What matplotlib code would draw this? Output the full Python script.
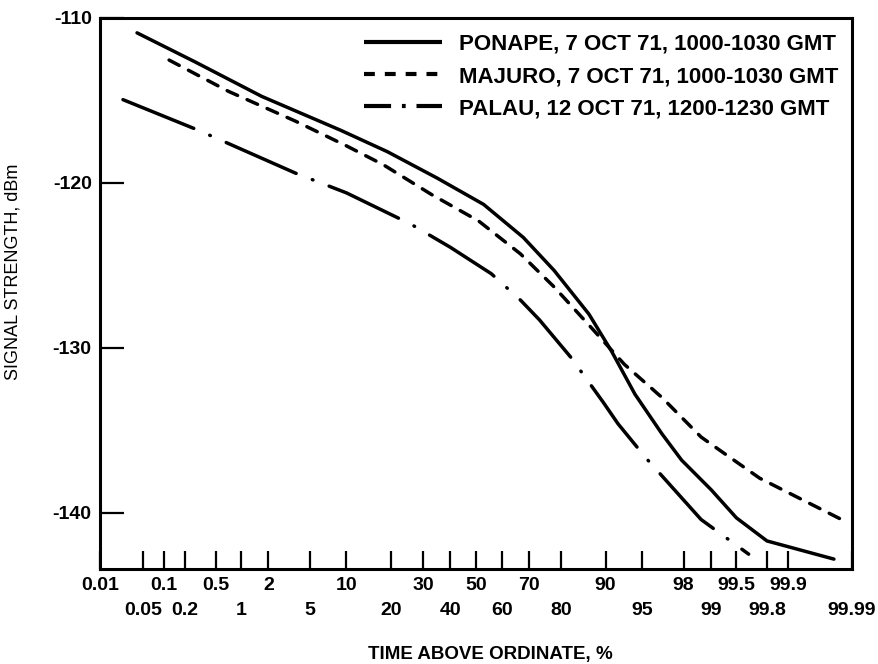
import math

import matplotlib
matplotlib.use("Agg")
import matplotlib.pyplot as plt
import numpy as np
from matplotlib.lines import Line2D
from matplotlib.ticker import FixedLocator, FixedFormatter, NullFormatter

# Cumulative distributions of received signal level (percent of time above ordinate)
ponape_pct = [0.04, 0.27, 1.7, 9.0, 19, 35, 53, 68, 78, 86.8, 91, 94.2, 96.7, 97.9, 99.0, 99.5, 99.8, 99.98]
ponape_dbm = [-110.9, -112.65, -114.75, -116.8, -118.1, -119.7, -121.3, -123.3, -125.3, -127.95,
              -130.2, -132.8, -135.2, -136.8, -138.6, -140.3, -141.7, -142.8]

majuro_pct = [0.12, 0.72, 3.7, 10, 18, 33, 51, 67, 78, 86.6, 92.9, 96.7, 98.7, 99.3, 99.75, 99.93, 99.985]
majuro_dbm = [-112.55, -114.45, -116.25, -117.75, -118.9, -120.7, -122.3, -124.3, -126.3, -128.55,
              -131.0, -133.0, -135.4, -136.4, -137.9, -139.1, -140.4]

palau_pct = [0.024, 0.3, 3.7, 10, 26, 40, 56, 67, 73.5, 82.7, 89.6, 92, 95.4, 98.7, 99.65]
palau_dbm = [-114.95, -116.8, -119.4, -120.6, -122.5, -123.9, -125.5, -127.1, -128.3, -130.6,
             -133.3, -134.6, -136.7, -140.4, -142.5]

labels = ["PONAPE, 7 OCT 71, 1000-1030 GMT",
          "MAJURO, 7 OCT 71, 1000-1030 GMT",
          "PALAU, 12 OCT 71, 1200-1230 GMT"]

top_row_ticks = [0.01, 0.1, 0.5, 2, 10, 30, 50, 70, 90, 98, 99.5, 99.9]
bottom_row_ticks = [0.05, 0.2, 1, 5, 20, 40, 60, 80, 95, 99, 99.8, 99.99]
y_ticks = [-110, -120, -130, -140]

# --- normal probability scale (Acklam's inverse normal approximation) ---
_A = [-3.969683028665376e+01, 2.209460984245205e+02, -2.759285104469687e+02,
      1.383577518672690e+02, -3.066479806614716e+01, 2.506628277459239e+00]
_B = [-5.447609879822406e+01, 1.615858368580409e+02, -1.556989798598866e+02,
      6.680131188771972e+01, -1.328068155288572e+01]
_C = [-7.784894002430293e-03, -3.223964580411365e-01, -2.400758277161838e+00,
      -2.549732539343734e+00, 4.374664141464968e+00, 2.938163982698783e+00]
_D = [7.784695709041462e-03, 3.224671290700398e-01, 2.445134137142996e+00,
      3.754408661907416e+00]


def _ppf_scalar(p):
    plow = 0.02425
    if p < plow:
        q = math.sqrt(-2 * math.log(p))
        return ((((((_C[0] * q + _C[1]) * q + _C[2]) * q + _C[3]) * q + _C[4]) * q + _C[5]) /
                ((((_D[0] * q + _D[1]) * q + _D[2]) * q + _D[3]) * q + 1))
    if p > 1 - plow:
        q = math.sqrt(-2 * math.log(1 - p))
        return -((((((_C[0] * q + _C[1]) * q + _C[2]) * q + _C[3]) * q + _C[4]) * q + _C[5]) /
                 ((((_D[0] * q + _D[1]) * q + _D[2]) * q + _D[3]) * q + 1))
    q = p - 0.5
    r = q * q
    return ((((((_A[0] * r + _A[1]) * r + _A[2]) * r + _A[3]) * r + _A[4]) * r + _A[5]) * q /
            (((((_B[0] * r + _B[1]) * r + _B[2]) * r + _B[3]) * r + _B[4]) * r + 1))


def pct_to_z(p):
    p = np.clip(np.asarray(p, dtype=float) / 100.0, 1e-9, 1 - 1e-9)
    return np.vectorize(_ppf_scalar, otypes=[float])(p)


def z_to_pct(z):
    z = np.asarray(z, dtype=float)
    return 50.0 * (1.0 + np.vectorize(math.erf, otypes=[float])(z / math.sqrt(2)))


plt.rcParams["font.family"] = ["Liberation Sans", "DejaVu Sans"]
plt.rcParams["font.weight"] = "bold"

W, H = 879, 664
fig = plt.figure(figsize=(W / 100, H / 100), dpi=100)
ax = fig.add_axes([100 / W, 1 - 569 / H, 752 / W, (569 - 18) / H])
ax.set_xscale("function", functions=(pct_to_z, z_to_pct))

lw = 2.5
dashed = (0, (3.3, 3.0))
dashdot = (0, (22, 5, 0.2, 5))
ax.plot(ponape_pct, ponape_dbm, color="black", lw=lw, solid_capstyle="round")
ax.plot(majuro_pct, majuro_dbm, color="black", lw=lw, linestyle=dashed, dash_capstyle="round")
ax.plot(palau_pct, palau_dbm, color="black", lw=lw, linestyle=dashdot, dash_capstyle="round")

ax.set_xlim(0.01, 99.99)
ax.set_ylim(-143.4, -110)

for s in ax.spines.values():
    s.set_linewidth(2.2)

# two staggered rows of percentage labels
ax.xaxis.set_major_locator(FixedLocator(top_row_ticks))
ax.xaxis.set_major_formatter(FixedFormatter([f"{t:g}" for t in top_row_ticks]))
ax.xaxis.set_minor_locator(FixedLocator(bottom_row_ticks))
ax.xaxis.set_minor_formatter(FixedFormatter([f"{t:g}" for t in bottom_row_ticks]))
ax.tick_params(axis="x", which="both", direction="in", length=13, width=1.6, labelsize=14)
ax.tick_params(axis="x", which="major", pad=6)
ax.tick_params(axis="x", which="minor", pad=24)

ax.set_yticks(y_ticks)
ax.set_yticklabels([f"{t:d}" for t in y_ticks])
ax.yaxis.set_minor_formatter(NullFormatter())
ax.tick_params(axis="y", which="major", direction="in", length=17, width=1.6, labelsize=14, pad=6)
ax.tick_params(axis="y", which="minor", left=False)
ax.tick_params(top=False, right=False)

ax.set_xlabel("TIME ABOVE ORDINATE, %", fontsize=13.5, fontweight="bold")
ax.xaxis.set_label_coords(0.519, -0.14)
ax.set_ylabel("SIGNAL STRENGTH, dBm", fontsize=13, fontweight="normal")
ax.yaxis.set_label_coords(-0.105, 0.54)

# legend keys use a shorter dash-dot so the dot shows inside the key
handles = [
    Line2D([], [], color="black", lw=3.0, solid_capstyle="butt"),
    Line2D([], [], color="black", lw=3.0, linestyle=(0, (2.6, 2.4))),
    Line2D([], [], color="black", lw=3.0, linestyle=(0, (6.5, 2.6, 0.9, 2.6)), dash_capstyle="butt"),
]
ax.legend(handles, labels, loc="upper right", frameon=False, fontsize=16,
          handlelength=3.5, handletextpad=0.75, labelspacing=0.5, borderpad=0.4,
          borderaxespad=0, bbox_to_anchor=(847 / W, 1 - 25 / H),
          bbox_transform=fig.transFigure)

fig.savefig("out.png", dpi=100)
